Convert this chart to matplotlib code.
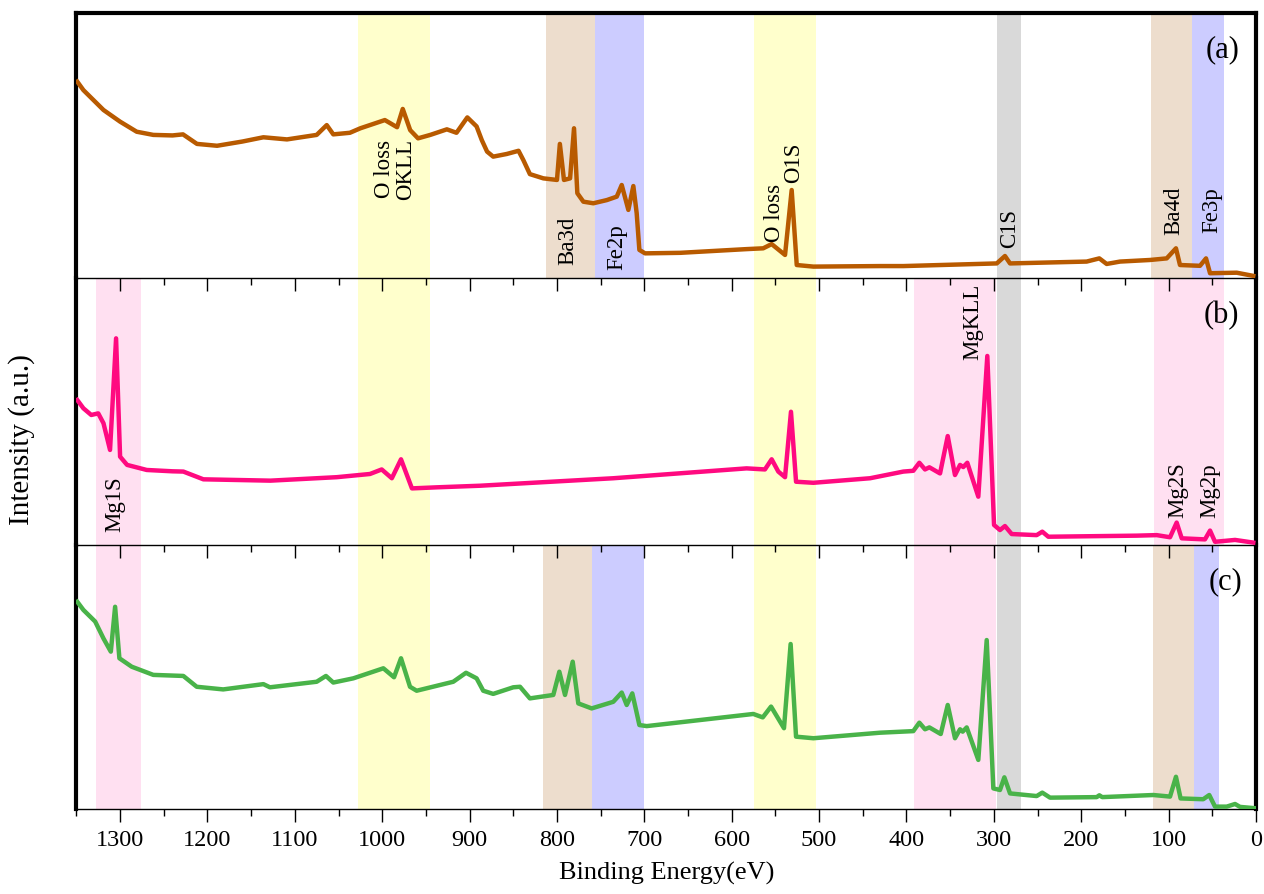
import matplotlib
matplotlib.use('Agg')
import matplotlib.pyplot as plt
from matplotlib.ticker import MultipleLocator

plt.rcParams['font.family'] = 'serif'
plt.rcParams['font.serif'] = ['Liberation Serif', 'DejaVu Serif']

# ---- data (binding energy in eV, intensity in arbitrary units 0-100 per panel) ----
e_a = [1349, 1342, 1319, 1300, 1281, 1262, 1240, 1228, 1224, 1212, 1189, 1160, 1136, 1109,
       1075, 1063.5, 1056, 1037, 1025, 997, 983, 976.5, 968, 959, 945, 926, 915, 902.6, 892,
       886, 880, 873, 857.5, 844, 838.5, 831, 815.6, 800, 796.7, 792, 785, 780.5, 776.7,
       769.8, 758.4, 743, 731.6, 725.9, 718.3, 712.6, 708.8, 705.7, 699.2, 659, 583, 564,
       554.3, 539, 531.4, 525.6, 506.6, 430, 403.6, 296.7, 287.3, 281.5, 193.8, 179.3, 170.9,
       155.6, 121.3, 102.2, 91.6, 87, 64.1, 57.2, 52.6, 22.1, 3.1]
i_a = [74.1, 70.9, 63.4, 59, 55.2, 54, 53.8, 54.2, 53.3, 50.6, 49.9, 51.5, 53.1, 52.3,
       54, 57.7, 54.2, 54.8, 56.5, 59.6, 56.9, 63.8, 55.8, 52.7, 54, 56.1, 54.8, 60.6, 57.2,
       52, 47.7, 45.8, 46.8, 48, 44.5, 39.2, 37.6, 37, 50.6, 37, 37.6, 56.5, 32,
       28.8, 28.2, 29.4, 30.7, 35.1, 25.7, 34.7, 24.5, 10.6, 9.3, 9.5, 10.9, 11.2,
       12.8, 8.7, 33.2, 4.9, 4.3, 4.5, 4.5, 5.5, 8.3, 5.5, 6.2, 7.4, 5.3,
       6.2, 6.8, 7.4, 11.2, 4.9, 4.6, 7.4, 1.8, 2.0, 0.8]

e_b = [1349, 1342, 1333, 1325, 1319, 1311.5, 1304.6, 1300, 1292, 1269.5, 1240, 1227.6, 1204.7,
       1128, 1052, 1014, 1000.6, 989, 978.5, 966, 937.6, 888, 735.6, 583, 562, 554.3, 546.7,
       539, 532.2, 526.4, 506.6, 441.7, 403.6, 392.2, 385.3, 378.8, 373.8, 361.6, 352.8,
       344.5, 338.7, 335, 330.4, 317.8, 307.5, 299.8, 293, 287.3, 279.6, 251, 244.6, 237.7,
       136.5, 113.6, 98.4, 90.8, 85, 58.4, 52.6, 46.9, 24, 3.1]
i_b = [54.3, 51.2, 48.7, 49.3, 45.6, 35.6, 77.4, 33.1, 30, 28.1, 27.6, 27.5, 24.6,
       24.1, 25.4, 26.6, 28.3, 25, 32.1, 21.2, 21.6, 22.2, 25, 28.7, 28.3, 32.1, 27.5,
       25.4, 49.9, 23.7, 23.3, 25, 27.5, 27.8, 30.8, 28.3, 29.1, 26.8, 40.8,
       26.2, 30, 29.2, 30.8, 18.1, 70.8, 7.5, 5.6, 7.1, 4.1, 3.7, 5, 3.1,
       3.5, 3.7, 2.9, 8.4, 2.5, 2.1, 5.4, 1.2, 1.9, 0.9]

e_c = [1349, 1342, 1328.5, 1319, 1310.6, 1305.7, 1300.8, 1286.7, 1262, 1227.6, 1212.3, 1182,
       1136, 1128.5, 1075, 1064.4, 1056, 1033, 998.7, 986.5, 978.5, 968.2, 960.6, 918.7,
       904.1, 892, 884.4, 873, 850, 842.3, 831, 804.2, 797.3, 790.8, 782, 775.6, 760.3,
       735.6, 725.9, 720.2, 713.8, 709.5, 705.7, 697.3, 575.3, 564.5, 555, 540.2, 532.6,
       526.4, 506.6, 430.3, 392.2, 385.3, 378.8, 373.8, 360.8, 352.8, 344.5, 338.7, 335.7,
       331.1, 317.8, 308.2, 300.6, 293, 288, 281.5, 251, 244.6, 235.7, 182.3, 179.3, 176,
       117.5, 98.4, 91.6, 86.3, 60.4, 53.5, 46.9, 33.5, 24, 18.3, 1.1]
i_c = [78.5, 75.4, 71, 64.6, 59.6, 76.6, 57.1, 53.9, 50.8, 50.4, 46.3, 45.3,
       47.3, 46.1, 48.2, 50.4, 47.9, 49.5, 53.3, 49.9, 57.1, 46.3, 44.8, 48.2,
       51.6, 49.5, 44.8, 43.6, 46.1, 46.3, 41.9, 43.2, 52, 43.2, 55.8, 40, 38.1,
       40.6, 44.1, 39.4, 43.8, 37.5, 31.8, 31.4, 36, 34.7, 38.8, 30.6, 62.5,
       27.4, 26.8, 28.9, 29.5, 32.7, 30.2, 30.9, 28.4, 39.4, 26.8, 30.2, 29.3,
       30.9, 18.6, 64, 7.8, 7.2, 12, 5.9, 4.9, 6.2, 4.3, 4.5, 5.2, 4.5,
       5.3, 4.7, 12.2, 4.0, 3.7, 5.3, 0.9, 0.9, 1.9, 0.8, 0.3]

# shaded regions (high eV, low eV, kind)
bands_a = [(1028, 945, 'O'), (813, 757, 'Ba'), (757, 700, 'Fe'), (574, 503, 'O'),
           (296, 269, 'C'), (120, 73, 'Ba'), (73, 37, 'Fe')]
bands_b = [(1327, 1276, 'Mg'), (1028, 945, 'O'), (574, 503, 'O'), (391, 297, 'Mg'),
           (296, 269, 'C'), (117, 37, 'Mg')]
bands_c = [(1327, 1276, 'Mg'), (1028, 945, 'O'), (816, 760, 'Ba'), (760, 700, 'Fe'),
           (574, 503, 'O'), (391, 297, 'Mg'), (296, 269, 'C'), (118, 71, 'Ba'), (71, 42, 'Fe')]

# peak labels (text, eV, height)
labels_a = [('O loss\nOKLL', 985, 41), ('Ba3d', 788, 5), ('Fe2p', 731, 3), ('O loss', 551.6, 13.6),
            ('O1S', 528.7, 35.8), ('C1S', 282.3, 11.3), ('Ba4d', 93.8, 16.2), ('Fe3p', 50.7, 17)]
labels_b = [('Mg1S', 1305.7, 4.9), ('MgKLL', 324.2, 69.3), ('Mg2S', 90, 10.1), ('Mg2p', 52.6, 10.1)]
labels_c = []
tag_x = [0.972, 0.971, 0.974]

band_colors = {'O': '#FFFFCC', 'Ba': '#EDDDCD', 'Fe': '#CCCCFF', 'C': '#D9D9D9', 'Mg': '#FFE0F1'}

fig = plt.figure(figsize=(12.64, 8.94), dpi=100)
left, width = 76.4 / 1264, (1256 - 76.4) / 1264
rects = [(1 - 278 / 894, 265 / 894), (1 - 545 / 894, 267 / 894), (1 - 809 / 894, 264 / 894)]

panels = [(e_a, i_a, '#B85A00', bands_a, labels_a, '(a)'),
          (e_b, i_b, '#FF0A80', bands_b, labels_b, '(b)'),
          (e_c, i_c, '#49B349', bands_c, labels_c, '(c)')]

for k, (ev, inten, col, bands, labels, tag) in enumerate(panels):
    bot, h = rects[k]
    ax = fig.add_axes([left, bot, width, h])
    ax.set_facecolor('none')
    ax.set_zorder(3 - k)
    for hi, lo, kind in bands:
        ax.axvspan(lo, hi, color=band_colors[kind], lw=0, zorder=0)
    ax.plot(ev, inten, color=col, lw=3.2, zorder=3, solid_joinstyle='round')
    for txt, x, y in labels:
        va = 'center' if '\n' in txt else 'bottom'
        ax.text(x, y, txt, rotation=90, ha='center', va=va, fontsize=16.5,
                multialignment='center', linespacing=1.0, zorder=4)
    ax.text(tag_x[k], 0.86, tag, transform=ax.transAxes, ha='center', va='center',
            fontsize=22, zorder=4)
    ax.set_xlim(1350, 0)
    ax.set_ylim(0, 100)
    ax.set_yticks([])
    ax.xaxis.set_major_locator(MultipleLocator(100))
    ax.xaxis.set_minor_locator(MultipleLocator(50))
    ax.tick_params(axis='x', which='major', direction='out', length=9, width=1,
                   labelsize=17.5, pad=6, top=False)
    ax.tick_params(axis='x', which='minor', direction='out', length=5, width=1, top=False)
    ax.spines['left'].set_linewidth(3)
    ax.spines['right'].set_linewidth(3)
    ax.spines['bottom'].set_linewidth(1)
    if k == 0:
        ax.spines['top'].set_linewidth(3)
    else:
        ax.spines['top'].set_visible(False)
    if k < 2:
        ax.tick_params(axis='x', labelbottom=False)
    else:
        ax.set_xlabel('Binding Energy(eV)', fontsize=19, labelpad=8)

fig.text(22 / 1264, 1 - 440 / 894, 'Intensity (a.u.)', rotation=90, ha='center', va='center',
         fontsize=21)

fig.savefig('out.png', dpi=100)
